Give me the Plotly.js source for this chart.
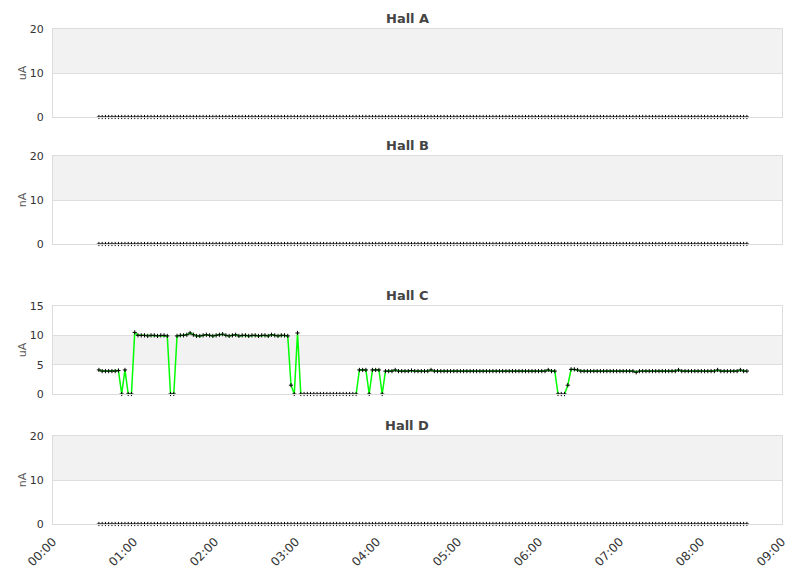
<!DOCTYPE html>
<html>
<head>
<meta charset="utf-8">
<script src="https://cdn.plot.ly/plotly-3.0.1.min.js"></script>
<style>html,body{margin:0;padding:0;background:#fff;}#chart{width:811px;height:578px;}</style>
</head>
<body>
<div id="chart"></div>
<script>
// ---- data ----
const panelTitles = ['Hall A', 'Hall B', 'Hall C', 'Hall D'];
const unitLabels = ['uA', 'nA', 'uA', 'nA'];
const xTickRange = ['2024-01-01 00:00', '2024-01-01 09:00'];
const sampleStart = '2024-01-01T00:34:00Z';
const sampleEnd = '2024-01-01T08:34:00Z';
const sampleCount = 200;

const hallA = [
0,0,0,0,0,0,0,0,0,0,0,0,0,0,0,0,0,0,0,0,0,0,0,0,0,0,0,0,0,0,0,0,0,0,0,0,0,0,0,0,0,0,0,0,0,0,0,0,0,0,
0,0,0,0,0,0,0,0,0,0,0,0,0,0,0,0,0,0,0,0,0,0,0,0,0,0,0,0,0,0,0,0,0,0,0,0,0,0,0,0,0,0,0,0,0,0,0,0,0,0,
0,0,0,0,0,0,0,0,0,0,0,0,0,0,0,0,0,0,0,0,0,0,0,0,0,0,0,0,0,0,0,0,0,0,0,0,0,0,0,0,0,0,0,0,0,0,0,0,0,0,
0,0,0,0,0,0,0,0,0,0,0,0,0,0,0,0,0,0,0,0,0,0,0,0,0,0,0,0,0,0,0,0,0,0,0,0,0,0,0,0,0,0,0,0,0,0,0,0,0,0];
const hallB = [
0,0,0,0,0,0,0,0,0,0,0,0,0,0,0,0,0,0,0,0,0,0,0,0,0,0,0,0,0,0,0,0,0,0,0,0,0,0,0,0,0,0,0,0,0,0,0,0,0,0,
0,0,0,0,0,0,0,0,0,0,0,0,0,0,0,0,0,0,0,0,0,0,0,0,0,0,0,0,0,0,0,0,0,0,0,0,0,0,0,0,0,0,0,0,0,0,0,0,0,0,
0,0,0,0,0,0,0,0,0,0,0,0,0,0,0,0,0,0,0,0,0,0,0,0,0,0,0,0,0,0,0,0,0,0,0,0,0,0,0,0,0,0,0,0,0,0,0,0,0,0,
0,0,0,0,0,0,0,0,0,0,0,0,0,0,0,0,0,0,0,0,0,0,0,0,0,0,0,0,0,0,0,0,0,0,0,0,0,0,0,0,0,0,0,0,0,0,0,0,0,0];
const hallC = [
4.1,3.9,3.9,3.9,3.9,3.9,4.0,0,4.1,0,
0,10.5,10.0,10.0,10.0,9.9,10.0,10.0,9.9,10.0,
10.0,9.9,0,0,9.9,10.0,10.0,10.1,10.4,10.1,
9.9,9.9,10.0,10.1,10.0,9.9,10.0,10.1,10.2,10.0,
9.9,10.0,10.1,9.9,10.0,10.0,9.9,10.0,10.0,9.9,
10.0,10.0,9.9,10.1,10.0,9.9,10.0,10.0,9.9,1.5,
0,10.4,0,0,0,0,0,0,0,0,
0,0,0,0,0,0,0,0,0,0,
4.1,4.1,4.1,0,4.1,4.1,4.1,0,3.9,3.9,
3.9,4.1,3.9,3.9,3.9,3.9,4.0,3.9,3.9,3.9,
3.9,3.9,4.1,3.9,3.9,3.9,3.9,3.9,3.9,3.9,
3.9,3.9,3.9,3.9,3.9,3.9,3.9,3.9,3.9,3.9,
3.9,3.9,3.9,3.9,3.9,3.9,3.9,3.9,3.9,3.9,
3.9,3.9,3.9,3.9,3.9,3.9,3.9,3.9,4.1,3.9,
3.9,0,0,0,1.5,4.2,4.2,4.1,3.9,3.9,
3.9,3.9,3.9,3.9,3.9,3.9,3.9,3.9,3.9,3.9,
3.9,3.9,3.9,3.9,3.9,3.7,3.9,3.9,3.9,3.9,
3.9,3.9,3.9,3.9,3.9,3.9,3.9,3.9,4.1,3.9,
3.9,3.9,3.9,3.9,3.9,3.9,3.9,3.9,3.9,3.9,
4.1,3.9,3.9,3.9,3.9,3.9,3.9,4.1,3.9,3.9];
const hallD = [
0,0,0,0,0,0,0,0,0,0,0,0,0,0,0,0,0,0,0,0,0,0,0,0,0,0,0,0,0,0,0,0,0,0,0,0,0,0,0,0,0,0,0,0,0,0,0,0,0,0,
0,0,0,0,0,0,0,0,0,0,0,0,0,0,0,0,0,0,0,0,0,0,0,0,0,0,0,0,0,0,0,0,0,0,0,0,0,0,0,0,0,0,0,0,0,0,0,0,0,0,
0,0,0,0,0,0,0,0,0,0,0,0,0,0,0,0,0,0,0,0,0,0,0,0,0,0,0,0,0,0,0,0,0,0,0,0,0,0,0,0,0,0,0,0,0,0,0,0,0,0,
0,0,0,0,0,0,0,0,0,0,0,0,0,0,0,0,0,0,0,0,0,0,0,0,0,0,0,0,0,0,0,0,0,0,0,0,0,0,0,0,0,0,0,0,0,0,0,0,0,0];
const yRanges = [[0, 20], [0, 20], [0, 15], [0, 20]];
const yDticks = [10, 10, 5, 10];

// ---- build ----
const series = [hallA, hallB, hallC, hallD];
const t0 = Date.parse(sampleStart), t1 = Date.parse(sampleEnd);
const times = [];
for (let i = 0; i < sampleCount; i++) times.push(t0 + (t1 - t0) * i / (sampleCount - 1));

// plot area: top 29 .. bottom 524 (height 495)
const domains = [[407/495, 1], [280/495, 368/495], [130/495, 218/495], [0, 88/495]];

const traces = [];
const shapes = [];
const annotations = [];
const layout = {
  width: 811, height: 578,
  margin: {l: 53, r: 29, t: 29, b: 54, pad: 0},
  showlegend: false,
  paper_bgcolor: '#ffffff', plot_bgcolor: 'rgba(0,0,0,0)',
  font: {family: 'DejaVu Sans, sans-serif', size: 11, color: '#333'},
  hovermode: false
};

series.forEach((vals, k) => {
  const n = k + 1;
  const xa = n === 1 ? 'x' : 'x' + n, ya = n === 1 ? 'y' : 'y' + n;
  // line: skip flat runs at zero (the source library hides them at the axis edge)
  const lineY = vals.map((v, i) => {
    if (v !== 0) return v;
    const prev = i > 0 ? vals[i - 1] : 0, next = i < vals.length - 1 ? vals[i + 1] : 0;
    return (prev === 0 && next === 0) ? null : v;
  });
  traces.push({x: times.slice(0, vals.length), y: lineY, xaxis: xa, yaxis: ya, type: 'scatter', mode: 'lines',
    line: {color: '#00ff00', width: 1.5}, connectgaps: false});
  traces.push({x: times.slice(0, vals.length), y: vals, xaxis: xa, yaxis: ya, type: 'scatter', mode: 'markers',
    marker: {symbol: 'cross-thin', size: 3, color: '#000', line: {color: '#000', width: 1}}, cliponaxis: false});

  const r = yRanges[k], dt = yDticks[k];
  // alternating bands between gridlines
  for (let b = r[0], j = 0; b < r[1]; b += dt, j++) {
    if (j % 2 === 1) shapes.push({type: 'rect', xref: xa + ' domain', yref: ya, x0: 0, x1: 1, y0: b, y1: b + dt,
      fillcolor: '#f2f2f2', line: {width: 0}, layer: 'below'});
  }
  layout[(n === 1 ? 'xaxis' : 'xaxis' + n)] = {
    type: 'date', range: xTickRange, domain: [0, 1], anchor: ya,
    dtick: 3600000, tickformat: '%H:%M', tickangle: -45,
    showgrid: false, zeroline: false, showline: true, mirror: true, linecolor: '#dcdcdc', linewidth: 1,
    ticks: '', showticklabels: n === 4, automargin: false, fixedrange: true,
    tickfont: {size: 12, color: '#333'}, ticklabelstandoff: 5,
    matches: n === 1 ? undefined : 'x'
  };
  layout[(n === 1 ? 'yaxis' : 'yaxis' + n)] = {
    range: r, dtick: dt, tick0: 0, domain: domains[k], anchor: xa,
    showgrid: true, gridcolor: '#dedede', gridwidth: 1, zeroline: false,
    showline: true, mirror: true, linecolor: '#dcdcdc', linewidth: 1,
    ticks: '', automargin: false, fixedrange: true, ticklabelstandoff: 6,
    tickfont: {size: 11, color: '#333'},
    title: {text: unitLabels[k], font: {size: 11, color: '#555'}, standoff: 0}
  };
  annotations.push({text: '<b>' + panelTitles[k] + '</b>', xref: 'paper', yref: 'paper',
    x: (407 - 53) / 729, y: domains[k][1], xanchor: 'center', yanchor: 'bottom', yshift: 1,
    showarrow: false, font: {size: 13, color: '#444', family: 'DejaVu Sans, sans-serif'}});
});
layout.shapes = shapes;
layout.annotations = annotations;

Plotly.newPlot('chart', traces, layout, {displayModeBar: false, staticPlot: true});
</script>
</body>
</html>
